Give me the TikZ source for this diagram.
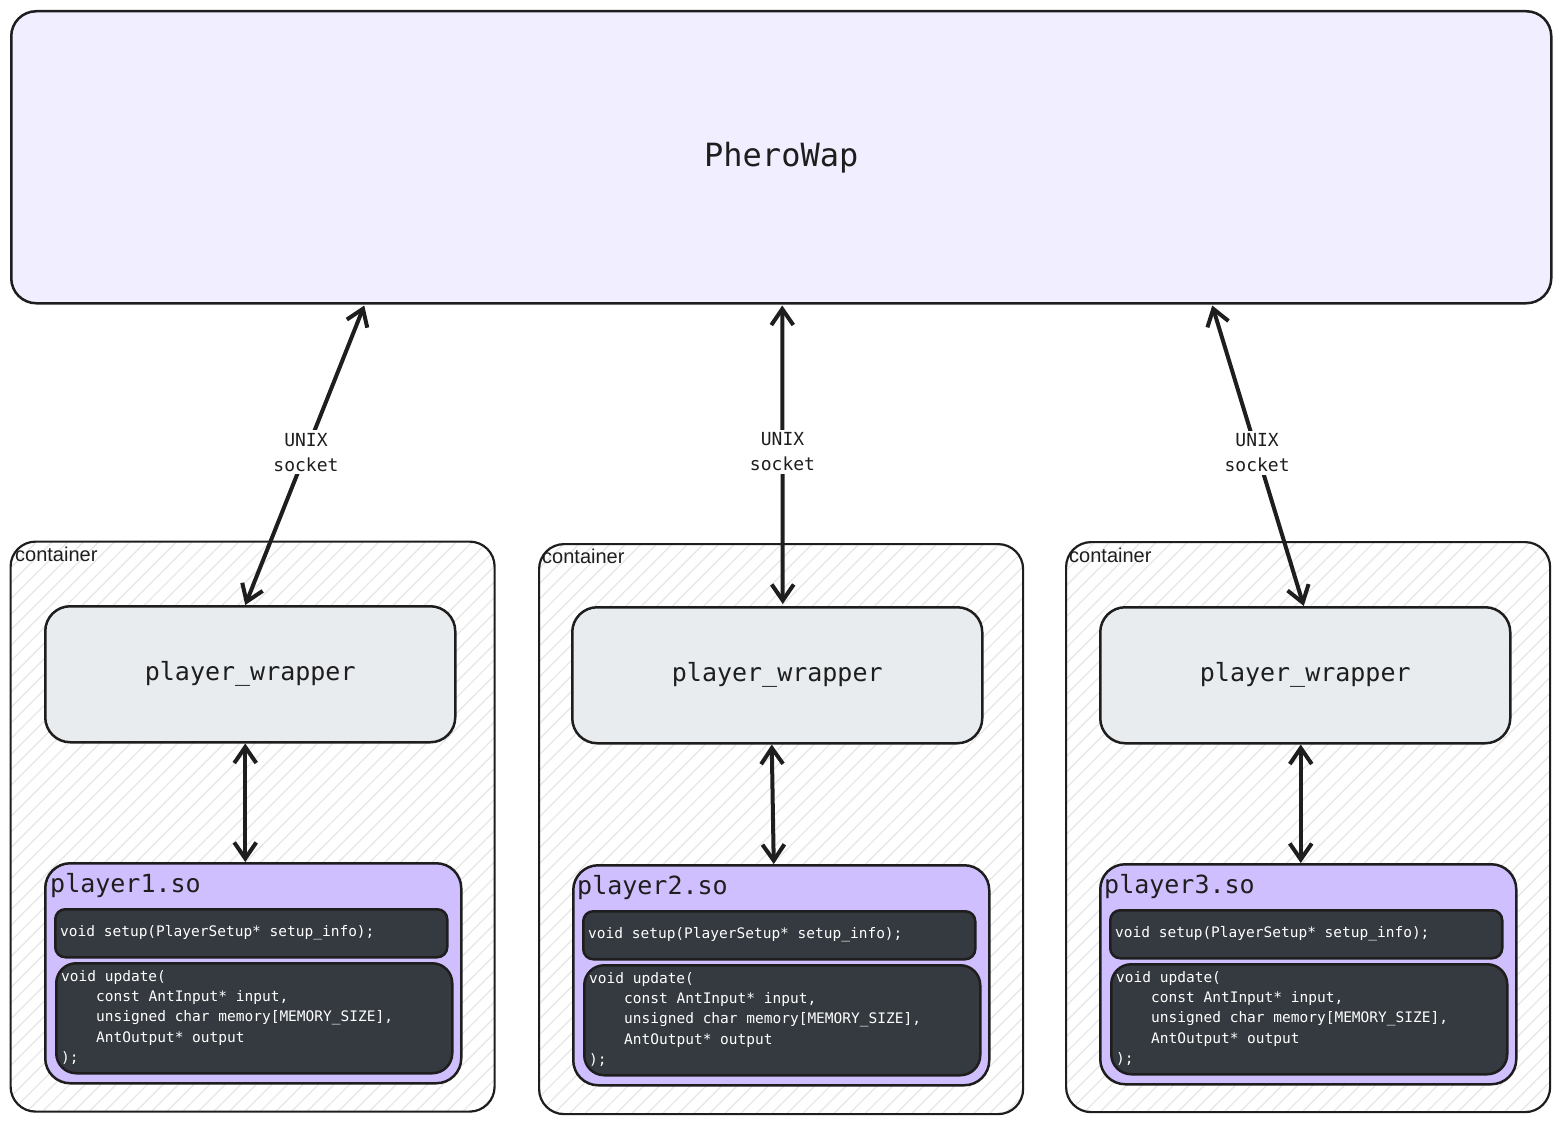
\documentclass[tikz,border=0pt]{standalone}
\usepackage{fontspec}
\setmainfont{DejaVu Sans}
\newfontfamily\monofont{DejaVu Sans Mono}
\newfontfamily\labelfont{Liberation Sans}
\usetikzlibrary{arrows.meta,patterns.meta,calc}
\definecolor{pherofill}{HTML}{F1EFFF}
\definecolor{wrapfill}{HTML}{E9ECEF}
\definecolor{sofill}{HTML}{D0BFFF}
\definecolor{codefill}{HTML}{343A40}
\definecolor{inkc}{HTML}{1E1E1E}
\definecolor{hatchc}{HTML}{E6E6E6}
\tikzset{
  box/.style={draw=inkc, line width=2.5pt, rounded corners=25pt, inner sep=0pt, anchor=north west},
  phero/.style={box, fill=pherofill, minimum width=1540pt, minimum height=292pt,
     font=\monofont\fontsize{32}{38}\selectfont, text=inkc},
  containerbox/.style={box, line width=2.2pt, preaction={fill=white}, minimum width=484pt, minimum height=570pt,
     pattern={Lines[angle=45,distance=11pt,line width=1.2pt]}, pattern color=hatchc},
  wrapper/.style={box, fill=wrapfill, minimum width=410pt, minimum height=136pt,
     font=\monofont\fontsize{25}{30}\selectfont, text=inkc},
  sobox/.style={box, fill=sofill, minimum width=416pt, minimum height=220pt},
  setupbox/.style={box, fill=codefill, rounded corners=10pt, minimum width=392pt, minimum height=48pt},
  updatebox/.style={box, fill=codefill, rounded corners=20pt, minimum width=396pt, minimum height=110pt},
  sotitle/.style={anchor=base west, inner sep=0pt, font=\monofont\fontsize{25}{30}\selectfont, text=inkc},
  codetext/.style={inner sep=0pt, text=white, align=left, font=\monofont\fontsize{14.5}{20.3}\selectfont},
  contlabel/.style={anchor=base west, inner sep=0pt, font=\labelfont\fontsize{20}{24}\selectfont, text=inkc},
  link/.style={draw=inkc, line width=4pt, {Straight Barb[length=16pt,width=22pt,line width=4pt]}-{Straight Barb[length=16pt,width=22pt,line width=4pt]}},
  socklabel/.style={fill=white, inner sep=3pt, align=center, text=inkc,
     font=\monofont\fontsize{18}{25}\selectfont}
}
\newcommand{\updatecode}{void update(\\\hspace*{35pt}const AntInput* input,\\\hspace*{35pt}unsigned char memory[MEMORY\_SIZE],\\\hspace*{35pt}AntOutput* output\\);}
\begin{document}
\begin{tikzpicture}[x=1pt,y=-1pt]
\useasboundingbox (0,0) rectangle (1560,1123);

\node[phero] (phero) at (10,10) {PheroWap};

% containers
\node[containerbox] (c1) at (10,541) {};
\node[containerbox] (c2) at (538,543) {};
\node[containerbox] (c3) at (1065,541) {};
\node[contlabel] (cl1) at (15,561) {container};
\node[contlabel] (cl2) at (542,563) {container};
\node[contlabel] (cl3) at (1069,562) {container};

% wrappers
\node[wrapper] (w1) at (44,605) {player\_wrapper};
\node[wrapper] (w2) at (571,606) {player\_wrapper};
\node[wrapper] (w3) at (1099,606) {player\_wrapper};

% player .so boxes
\node[sobox] (s1) at (44,862) {};
\node[sobox] (s2) at (572,864) {};
\node[sobox] (s3) at (1099,863) {};
\node[sotitle] (t1) at (50,892) {player1.so};
\node[sotitle] (t2) at (577,894) {player2.so};
\node[sotitle] (t3) at (1104,893) {player3.so};

\node[setupbox] (su1) at (54,908) {};
\node[setupbox] (su2) at (582,910) {};
\node[setupbox] (su3) at (1109,909) {};
\node[codetext, anchor=west] (sut1) at (60,933) {void setup(PlayerSetup* setup\_info);};
\node[codetext, anchor=west] (sut2) at (588,935) {void setup(PlayerSetup* setup\_info);};
\node[codetext, anchor=west] (sut3) at (1115,934) {void setup(PlayerSetup* setup\_info);};

\node[updatebox] (up1) at (55,962) {};
\node[updatebox] (up2) at (583,964) {};
\node[updatebox] (up3) at (1110,963) {};
\node[codetext, anchor=north west] (upt1) at (61,970) {\updatecode};
\node[codetext, anchor=north west] (upt2) at (589,972) {\updatecode};
\node[codetext, anchor=north west] (upt3) at (1116,971) {\updatecode};

% socket links
\draw[link] ([xshift=-417pt,yshift=-1pt]phero.south) -- ([xshift=-5pt]w1.north)
  node[socklabel, pos=0.49] (sock1) {UNIX\\socket};
\draw[link] ([xshift=1pt,yshift=-1pt]phero.south) -- ([xshift=5.5pt,yshift=2pt]w2.north)
  node[socklabel, pos=0.49] (sock2) {UNIX\\socket};
\draw[link] ([xshift=431pt,yshift=-1pt]phero.south) -- ([xshift=-1.5pt]w3.north)
  node[socklabel, pos=0.49] (sock3) {UNIX\\socket};

% wrapper <-> so links
\draw[link] ([xshift=-5pt]w1.south) -- ([xshift=-8pt]s1.north);
\draw[link] ([xshift=-5.5pt]w2.south) -- ([xshift=-7.5pt]s2.north);
\draw[link] ([xshift=-4.5pt]w3.south) -- ([xshift=-7.5pt]s3.north);
\end{tikzpicture}
\end{document}
